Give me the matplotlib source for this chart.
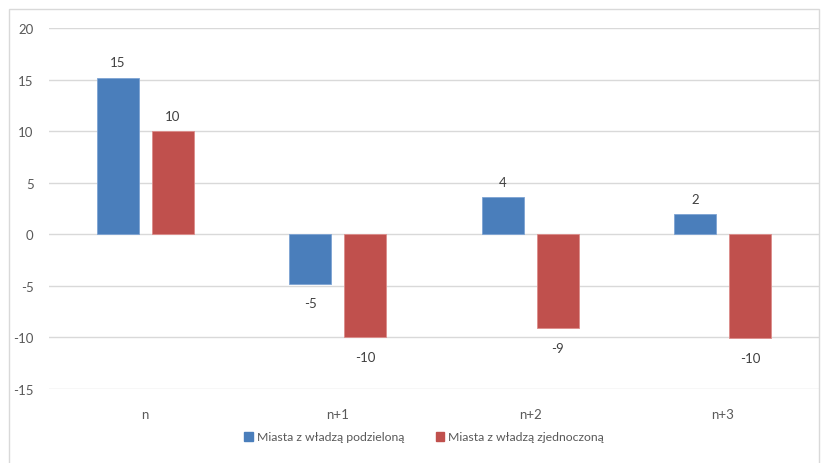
import matplotlib
matplotlib.use("Agg")
import matplotlib.pyplot as plt
import numpy as np
from matplotlib.patches import Rectangle

categories = ["n", "n+1", "n+2", "n+3"]
podzielona = [15.2, -4.8, 3.6, 1.95]
zjednoczona = [10.0, -10.0, -9.1, -10.1]
series_names = ["Miasta z władzą podzieloną", "Miasta z władzą zjednoczoną"]
yticks = [20, 15, 10, 5, 0, -5, -10, -15]

plt.rcParams['font.family'] = ['Lato', 'DejaVu Sans']
plt.rcParams['axes.unicode_minus'] = False
W, H = 822, 464
fig = plt.figure(figsize=(W/100, H/100), dpi=100)
fig.patches.append(Rectangle((9/W, -0.1), (819-9)/W, 1.1 - 10/H, transform=fig.transFigure,
                             fill=False, edgecolor='#d9d9d9', linewidth=1.0))

ax = fig.add_axes([49/W, 1-390/H, (819-49)/W, (390-29)/H])
x = np.arange(len(categories))
bw = 0.22
off = 0.1425
blue = '#4a7ebb'
red = '#c0504d'
b1 = ax.bar(x - off, podzielona, bw, color=blue, edgecolor='#7da3d3', linewidth=0.6, zorder=3)
b2 = ax.bar(x + off, zjednoczona, bw, color=red, edgecolor='#dc8c8a', linewidth=0.6, zorder=3)

ax.set_xlim(-0.5, len(categories) - 0.5)
ax.set_ylim(-15, 20)
ax.set_yticks(yticks)
ax.grid(axis='y', color='#d9d9d9', linewidth=1.0, zorder=0)
for s in ax.spines.values():
    s.set_visible(False)
ax.tick_params(axis='both', length=0, colors='#595959', labelsize=9.5)
ax.tick_params(axis='y', pad=11)
ax.tick_params(axis='x', pad=14)
ax.set_xticks(x)
ax.set_xticklabels(categories)

for bars, vals in ((b1, podzielona), (b2, zjednoczona)):
    for rect, v in zip(bars, vals):
        cx = rect.get_x() + rect.get_width() / 2
        if v >= 0:
            ax.annotate(f"{v:.0f}", (cx, v), xytext=(0, 11), textcoords='offset points',
                        ha='center', va='center', fontsize=9.5, color='#404040')
        else:
            ax.annotate(f"{v:.0f}", (cx, v), xytext=(0, -14), textcoords='offset points',
                        ha='center', va='center', fontsize=9.5, color='#404040')

handles = [Rectangle((0, 0), 1, 1, color=blue), Rectangle((0, 0), 1, 1, color=red)]
fig.legend(handles, series_names, loc='center', bbox_to_anchor=(424/W, 1-438/H), ncol=2,
           frameon=False, fontsize=8.8, handlelength=0.7, handleheight=0.7,
           handletextpad=0.3, columnspacing=2.6, labelcolor='#595959')

fig.savefig("out.png", dpi=100)
